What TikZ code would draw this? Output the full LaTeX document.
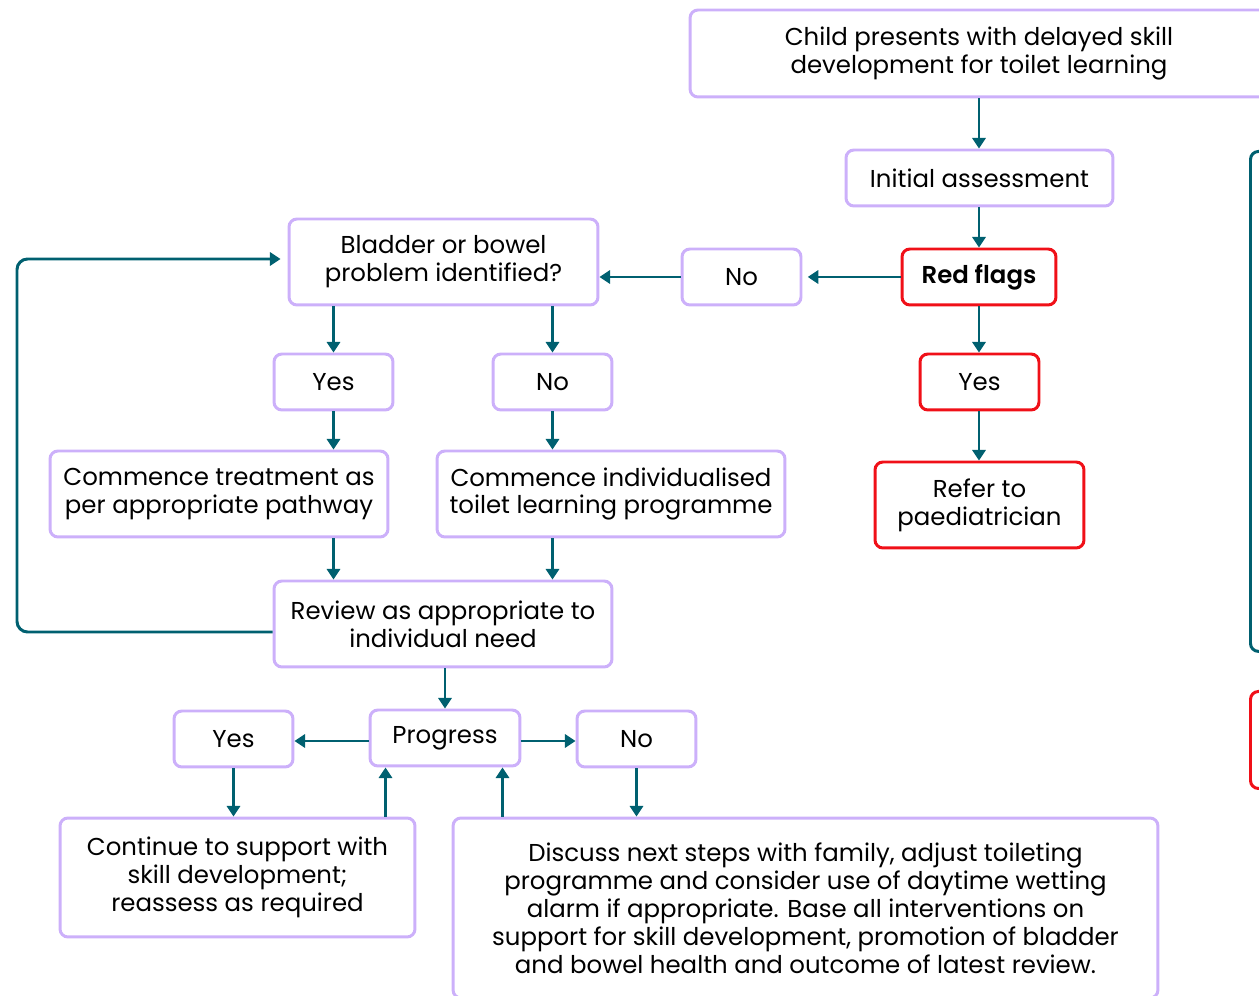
\documentclass[tikz,border=0pt]{standalone}
\usepackage{fontspec}
\setmainfont{Poppins}
\newfontfamily\semibold{Poppins SemiBold}
\usetikzlibrary{arrows.meta}

\definecolor{lilac}{RGB}{204,176,250}
\definecolor{petrol}{RGB}{0,96,112}
\definecolor{flagred}{RGB}{240,16,24}

\begin{document}
\begin{tikzpicture}[x=0.02cm,y=-0.02cm,
  box/.style={draw=lilac,line width=1.7pt,rounded corners=4.5pt,align=center,inner sep=0pt,
    font=\fontsize{13.9}{15.9}\selectfont},
  flag/.style={box,draw=flagred},
  small/.style={minimum width=2.38cm,minimum height=1.12cm},
  arr/.style={petrol,line width=1.7pt,-{Triangle[length=6pt,width=7.5pt]}}]
\useasboundingbox (0,0) rectangle (1259,996);
\clip (0,0) rectangle (1259,996);

% right hand column
\node[box,minimum width=11.56cm,minimum height=1.74cm] (child) at (979,53.5)
  {Child presents with delayed skill\\development for toilet learning};
\node[box,minimum width=5.34cm,minimum height=1.12cm] (init) at (979.5,178) {Initial assessment};
\node[flag,minimum width=3.08cm,minimum height=1.12cm] (flags) at (979,277) {\semibold Red flags};
\node[box,small] (noR) at (741.5,277) {No};
\node[flag,small] (yesR) at (979.5,382) {Yes};
\node[flag,minimum width=4.18cm,minimum height=1.72cm] (refer) at (979.5,505) {Refer to\\paediatrician};

% partly shown boxes at the edge
\node[draw=petrol,line width=1.7pt,rounded corners=4.5pt,minimum width=2cm,minimum height=10cm,anchor=north west] (side) at (1249,150) {};
\node[draw=flagred,line width=1.7pt,rounded corners=4.5pt,minimum width=2cm,minimum height=1.94cm,anchor=north west] (sidered) at (1249,690) {};

% left part
\node[box,minimum width=6.18cm,minimum height=1.72cm] (bladder) at (443.5,262) {Bladder or bowel\\problem identified?};
\node[box,small] (yesA) at (333.5,382) {Yes};
\node[box,small] (noA) at (552.5,382) {No};
\node[box,minimum width=6.76cm,minimum height=1.72cm] (treat) at (219,494) {Commence treatment as\\per appropriate pathway};
\node[box,minimum width=6.96cm,minimum height=1.72cm] (indiv) at (611,494) {Commence individualised\\toilet learning programme};
\node[box,minimum width=6.76cm,minimum height=1.72cm] (review) at (443,624) {Review as appropriate to\\individual need};
\node[box,minimum width=3cm,minimum height=1.12cm] (progress) at (445,738) {Progress};
\node[box,small] (yesB) at (233.5,739) {Yes};
\node[box,small] (noB) at (636.5,739) {No};
\node[box,minimum width=7.1cm,minimum height=2.38cm] (cont) at (237.5,877.5)
  {Continue to support with\\skill development;\\reassess as required};
\node[box,minimum width=14.1cm,minimum height=3.6cm] (discuss) at (805.5,908)
  {Discuss next steps with family, adjust toileting\\programme and consider use of daytime wetting\\alarm if appropriate. Base all interventions on\\support for skill development, promotion of bladder\\and bowel health and outcome of latest review.};

\coordinate (edge) at (17,0);
\coordinate (up1) at ([xshift=0.34cm]progress.south west);
\coordinate (up2) at ([xshift=-0.38cm]progress.south east);

\draw[arr] (child.south -| flags) -- (flags |- init.north);
\draw[arr] (flags |- init.south) -- (flags.north);
\draw[arr,shorten >=3pt] (flags.west) -- (noR.east);
\draw[arr] (noR.west) -- (noR.west -| bladder.east);
\draw[arr] (flags.south) -- (flags |- yesR.north);
\draw[arr] (flags |- yesR.south) -- (flags |- refer.north);

\draw[arr] (yesA |- bladder.south) -- (yesA.north);
\draw[arr] (noA |- bladder.south) -- (noA.north);
\draw[arr] (yesA.south) -- (yesA |- treat.north);
\draw[arr] (noA.south) -- (noA |- indiv.north);
\draw[arr] (treat.south -| yesA) -- (review.north -| yesA);
\draw[arr] (indiv.south -| noA) -- (review.north -| noA);
\draw[arr,rounded corners=6pt,shorten >=4pt] ([yshift=-0.16cm]review.west) -- ([yshift=-0.16cm]review.west -| edge)
  -- ([yshift=0.06cm]bladder.west -| edge) -- ([yshift=0.06cm]bladder.west);

\draw[arr] (progress |- review.south) -- (progress.north);
\draw[arr] ([yshift=-0.06cm]progress.west) -- ([yshift=-0.06cm]progress.west -| yesB.east);
\draw[arr] ([yshift=-0.06cm]progress.east) -- ([yshift=-0.06cm]progress.east -| noB.west);
\draw[arr] (yesB.south) -- (yesB.south |- cont.north);
\draw[arr] (up1 |- cont.north) -- (up1);
\draw[arr] (up2 |- discuss.north) -- (up2);
\draw[arr] (noB.south) -- (noB.south |- discuss.north);

\end{tikzpicture}
\end{document}
